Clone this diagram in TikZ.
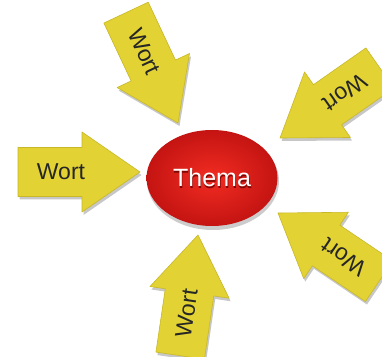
\documentclass[tikz,border=0pt]{standalone}
\usepackage{fontspec}
\setmainfont{Liberation Sans}
\usetikzlibrary{shapes.geometric}
\definecolor{arrowyellow}{RGB}{226,210,52}
\definecolor{arrowedge}{RGB}{200,184,40}
\definecolor{redin}{RGB}{242,44,34}
\definecolor{redout}{RGB}{196,20,18}
\tikzset{
  arrowbody/.style={fill=arrowyellow, draw=arrowedge, line width=0.6pt, line join=round},
  arrowshadow/.style={fill=black, opacity=0.22},
  wordlabel/.style={font=\fontsize{23}{26}\selectfont, text=black!85},
  topic/.style={ellipse, minimum width=131pt, minimum height=96pt, inner sep=0pt,
    shading=radial, inner color=redin, outer color=redout},
}
\begin{document}
\begin{tikzpicture}[x=1pt,y=1pt]
\useasboundingbox (0,0) rectangle (382,356);
\clip (0,0) rectangle (382,356);
\fill[white] (0,0) rectangle (382,356);
% ellipse shadow
\fill[black, opacity=0.2] (213,175) ellipse [x radius=66, y radius=49];
\node[topic] (thema) at (212,178) {};
\node[font=\fontsize{25}{30}\selectfont, text=black!60!red, opacity=0.8] (themashadow) at (212.6,176.6) {Thema};
\node[font=\fontsize{25}{30}\selectfont, text=white] (thematext) at (212,178) {Thema};
% arrows: tip x / tip y / angle / name
\foreach \tx/\ty/\ang/\nm in {140/184/0/left, 178/233/-64.8/top, 280/218/215/topright, 278/143/146/botright, 198/121/81.6/bottom}{
  \begin{scope}[shift={(\tx+1.5,\ty-3)}, rotate=\ang]
    \fill[arrowshadow] (0,0) -- (-58,40) -- (-58,24.5) -- (-122,24.5) -- (-122,-24.5) -- (-58,-24.5) -- (-58,-40) -- cycle;
  \end{scope}
  \begin{scope}[shift={(\tx,\ty)}, rotate=\ang]
    \draw[arrowbody] (0,0) -- (-58,40) -- (-58,24.5) -- (-122,24.5) -- (-122,-24.5) -- (-58,-24.5) -- (-58,-40) -- cycle;
    \node[wordlabel, rotate=\ang] (w\nm) at (-79,0) {Wort};
  \end{scope}
}
\end{tikzpicture}
\end{document}
